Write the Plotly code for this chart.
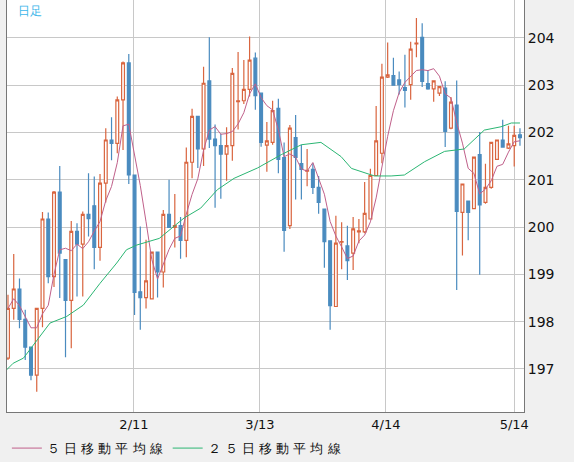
import pandas as pd
import plotly.graph_objects as go

# daily candles (index 0 = leftmost candle)
opens = [197.23, 198.28, 198.69, 198.05, 197.46, 196.87, 198.28, 200.17, 198.95, 200.74,
         199.31, 198.45, 199.91, 199.64, 200.27, 200.45, 199.57, 200.93, 201.84, 201.77,
         202.69, 203.47, 201.10, 198.63, 198.51, 198.48, 199.47, 199.05, 200.27, 199.99,
         200.03, 199.72, 201.37, 202.34, 201.65, 203.09, 201.86, 201.72, 201.54, 201.72,
         202.65, 202.67, 202.91, 203.57, 202.83, 201.73, 201.79, 202.51, 201.47, 200.03,
         201.89, 201.34, 201.18, 201.22, 200.84, 200.38, 199.71, 198.32, 199.68, 199.60,
         199.45, 199.90, 199.90, 200.17, 201.09, 201.56, 203.17, 203.20, 203.11, 202.95,
         203.01, 203.87, 204.01, 203.03, 202.92, 202.83, 202.94, 202.09, 202.58, 200.31,
         200.55, 200.39, 201.53, 200.52, 200.84, 201.43, 201.84, 201.67, 201.72, 201.95]
closes = [198.28, 198.69, 198.05, 197.46, 196.87, 198.28, 200.17, 198.95, 200.74, 199.45,
          198.45, 199.91, 199.64, 200.27, 200.18, 199.57, 200.93, 201.84, 201.77, 202.69,
          203.47, 201.10, 198.62, 198.51, 198.86, 199.47, 199.05, 200.27, 199.99, 200.03,
          199.72, 201.37, 202.34, 201.65, 203.04, 201.86, 201.72, 201.54, 201.72, 203.25,
          202.67, 202.91, 203.53, 202.78, 201.79, 201.82, 202.46, 201.43, 199.93, 202.09,
          201.47, 201.22, 201.20, 200.84, 200.52, 199.69, 198.34, 199.66, 199.69, 199.29,
          199.96, 199.92, 200.29, 201.09, 201.82, 203.17, 203.22, 203.00, 203.01, 202.89,
          203.76, 203.89, 203.08, 202.92, 203.09, 202.97, 202.02, 202.64, 200.33, 200.91,
          200.31, 201.48, 200.47, 200.84, 201.79, 201.84, 201.69, 201.76, 201.94, 201.89]
highs = [198.57, 199.43, 198.91, 198.25, 197.47, 198.28, 200.32, 200.31, 200.76, 201.29,
         199.31, 200.13, 200.08, 200.33, 201.14, 201.07, 201.12, 202.09, 202.32, 202.76,
         203.50, 203.66, 201.10, 200.01, 199.73, 199.47, 199.47, 200.36, 201.00, 200.70,
         200.21, 201.68, 202.50, 202.34, 203.39, 204.01, 202.17, 201.97, 202.11, 203.36,
         203.70, 203.53, 204.03, 203.69, 202.83, 202.22, 202.67, 202.71, 201.79, 202.16,
         202.37, 201.74, 201.65, 201.35, 201.08, 200.38, 199.71, 200.24, 200.10, 200.03,
         200.21, 200.17, 200.95, 201.23, 202.56, 203.45, 203.90, 203.58, 203.29, 203.64,
         203.92, 204.42, 204.31, 203.32, 203.09, 202.97, 203.08, 202.75, 203.10, 200.91,
         200.55, 201.48, 202.01, 201.34, 201.79, 201.84, 202.27, 202.14, 202.14, 202.09]
lows = [197.19, 198.04, 197.86, 197.19, 196.76, 196.52, 197.88, 198.81, 198.73, 198.50,
        197.25, 197.44, 198.53, 198.53, 199.80, 199.11, 199.29, 200.52, 201.41, 201.56,
        201.63, 200.91, 198.14, 197.83, 198.28, 198.48, 198.51, 198.72, 199.98, 199.57,
        199.33, 199.36, 201.03, 201.25, 201.29, 201.67, 200.41, 200.60, 200.98, 201.40,
        202.06, 202.60, 202.76, 202.48, 201.70, 201.17, 201.74, 201.14, 199.48, 199.96,
        200.58, 200.58, 200.86, 200.70, 200.28, 199.14, 197.83, 198.32, 199.11, 198.88,
        199.09, 199.66, 199.87, 200.17, 201.09, 201.35, 203.15, 202.99, 202.80, 202.53,
        202.69, 203.59, 202.96, 202.90, 202.65, 202.77, 201.69, 202.07, 198.67, 199.40,
        199.72, 200.39, 198.99, 200.49, 200.81, 201.43, 201.69, 201.65, 201.28, 201.72]

# 25-day moving average, read at points along the green line
ma25_x = [-1.4, 0.9, 2.7, 4.4, 7.3, 10.2, 13.1, 16.0, 18.9, 20.6, 22.4, 26.3, 30.6, 33.5,
          36.4, 39.3, 43.4, 47.5, 51.0, 54.4, 57.9, 59.7, 63.7, 66.6, 68.9, 72.4, 75.9,
          79.3, 82.8, 85.7, 87.5, 89.0]
ma25 = [196.84, 197.12, 197.23, 197.51, 197.97, 198.11, 198.35, 198.81, 199.24, 199.52,
        199.62, 199.76, 200.19, 200.40, 200.79, 201.03, 201.25, 201.53, 201.74, 201.79,
        201.49, 201.24, 201.08, 201.08, 201.10, 201.38, 201.60, 201.65, 202.05, 202.12,
        202.20, 202.20]

tick_pos = [21.9, 43.8, 65.7, 88.0]
tick_text = ["2/11", "3/13", "4/14", "5/14"]

idx = list(range(len(closes)))
ma5 = pd.Series(closes).rolling(5, min_periods=1).mean()

RED = "#d9653f"
BLUE = "#4a8bbf"

fig = go.Figure()
fig.add_trace(go.Candlestick(
    x=idx, open=opens, high=highs, low=lows, close=closes,
    increasing=dict(line=dict(color=RED, width=1.2), fillcolor="#ffffff"),
    decreasing=dict(line=dict(color=BLUE, width=1.2), fillcolor=BLUE),
    whiskerwidth=0, showlegend=False, hoverinfo="skip",
))
fig.add_trace(go.Scatter(x=idx, y=ma5, mode="lines", name="５ 日 移 動 平 均 線",
                         line=dict(color="#c0608a", width=1)))
fig.add_trace(go.Scatter(x=ma25_x, y=ma25, mode="lines", name="２ ５ 日 移 動 平 均 線",
                         line=dict(color="#2bb673", width=1)))

fig.add_annotation(text="日足", xref="paper", yref="paper", x=0.018, y=0.995,
                   xanchor="left", yanchor="top", showarrow=False,
                   font=dict(size=12, color="#3bb6ea"))

fig.update_layout(
    width=574, height=462,
    margin=dict(l=7, r=50, t=0, b=50, autoexpand=False),
    paper_bgcolor="#f0f0f0", plot_bgcolor="#ffffff",
    font=dict(family="DejaVu Sans", size=13, color="#111"),
    xaxis=dict(range=[-0.17, 89.7], tickvals=tick_pos, ticktext=tick_text,
               rangeslider=dict(visible=False), showgrid=True, gridcolor="#c8c8c8",
               zeroline=False, showline=True, mirror=True, linecolor="#777",
               ticks="", tickfont=dict(size=13)),
    yaxis=dict(range=[196.09, 204.8], side="right", dtick=1, showgrid=True,
               gridcolor="#c8c8c8", zeroline=False, showline=True, mirror=True,
               linecolor="#777", ticks="", tickfont=dict(size=14)),
    legend=dict(orientation="h", x=0.012, y=0.03, xref="container", yref="container",
                xanchor="left", yanchor="middle", itemwidth=30,
                bgcolor="rgba(0,0,0,0)", font=dict(size=13)),
)

fig.write_html("out.html", config={"displayModeBar": False},
               post_script="document.body.style.margin='0';")
